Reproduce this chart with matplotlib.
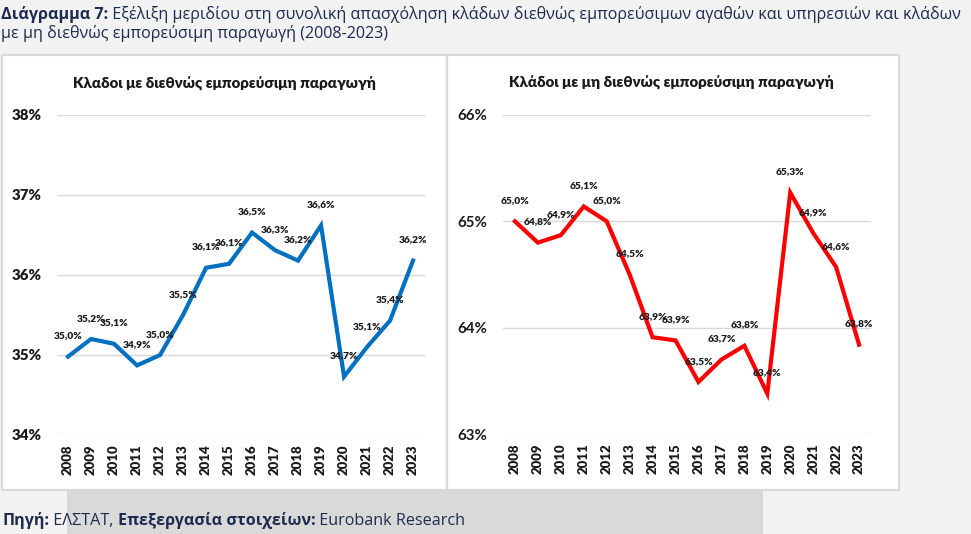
import matplotlib
matplotlib.use('Agg')
import matplotlib.pyplot as plt
from matplotlib.patches import Rectangle

# dados
anos = [str(a) for a in range(2008, 2024)]
comerciavel = [34.98, 35.20, 35.14, 34.87, 35.00, 35.50, 36.09, 36.14,
               36.53, 36.31, 36.18, 36.62, 34.73, 35.10, 35.43, 36.18]
rotulos_com = ['35,0%', '35,2%', '35,1%', '34,9%', '35,0%', '35,5%', '36,1%', '36,1%',
               '36,5%', '36,3%', '36,2%', '36,6%', '34,7%', '35,1%', '35,4%', '36,2%']
nao_comerciavel = [65.00, 64.80, 64.87, 65.14, 65.00, 64.50, 63.91, 63.88,
                   63.49, 63.70, 63.83, 63.38, 65.27, 64.89, 64.57, 63.84]
rotulos_nao = ['65,0%', '64,8%', '64,9%', '65,1%', '65,0%', '64,5%', '63,9%', '63,9%',
               '63,5%', '63,7%', '63,8%', '63,4%', '65,3%', '64,9%', '64,6%', '63,8%']
titulo = ('Διάγραμμα 7:', ' Εξέλιξη μεριδίου στη συνολική απασχόληση κλάδων διεθνώς '
          'εμπορεύσιμων αγαθών και υπηρεσιών και κλάδων')
titulo2 = 'με μη διεθνώς εμπορεύσιμη παραγωγή (2008-2023)'
fonte = [('Πηγή:', True), (' ΕΛΣΤΑΤ, ', False), ('Επεξεργασία στοιχείων:', True),
         (' Eurobank Research', False)]

W, H = 971, 534
NAVY = '#1d2b4f'
FONT_CAB = 'Open Sans'
FONT_CH = 'Lato'

fig = plt.figure(figsize=(W / 100, H / 100), dpi=100, facecolor='#f2f2f2')


def fx(x):
    return x / W


def fy(y):
    return 1 - y / H


# faixa do rodape
fig.patches.append(Rectangle((fx(67), 0), fx(763) - fx(67), fy(490),
                             transform=fig.transFigure, facecolor='#d9d9d9',
                             edgecolor='none', zorder=-2))
# paineis
for x0, x1 in [(2, 447), (447, 899)]:
    fig.patches.append(Rectangle((fx(x0), fy(490)), fx(x1) - fx(x0), fy(55) - fy(490),
                                 transform=fig.transFigure, facecolor='white',
                                 edgecolor='#d9d9d9', lw=1.6, zorder=-1))

renderer = fig.canvas.get_renderer()


def texto_rico(partes, x, y, size):
    """Escreve trechos em sequencia (negrito / normal)"""
    for s, negrito in partes:
        t = fig.text(fx(x), fy(y), s, fontsize=size, color=NAVY, family=FONT_CAB,
                     fontweight='bold' if negrito else 'normal', va='baseline', ha='left')
        bb = t.get_window_extent(renderer)
        x += bb.width


texto_rico([(titulo[0], True), (titulo[1], False)], 1, 19, 11.6)
texto_rico([(titulo2, False)], 1, 38, 11.6)
texto_rico(fonte, 2, 525, 11.6)


def painel(rect, valores, rotulos, ylim, xlim, cor, titulo_g, tx, ty, peso_y):
    ax = fig.add_axes(rect)
    ax.set_facecolor('none')
    x = list(range(len(anos)))
    ax.plot(x, valores, color=cor, lw=3.0, solid_joinstyle='miter', zorder=3)
    for xi, v, r in zip(x, valores, rotulos):
        ax.annotate(r, (xi, v), xytext=(0, 15), textcoords='offset points',
                    ha='center', va='center', fontsize=7.3, fontweight='heavy',
                    color='#1a1a1a', family=FONT_CH, zorder=4)
    ax.set_ylim(*ylim)
    ax.set_xlim(*xlim)
    ticks = list(range(ylim[0], ylim[1] + 1))
    ax.set_yticks(ticks)
    ax.set_yticklabels([f'{t}%' for t in ticks], fontsize=10.8, fontweight=peso_y,
                       family=FONT_CH, color='#1a1a1a')
    ax.set_xticks(x)
    ax.set_xticklabels(anos, rotation=90, fontsize=9.5, fontweight='heavy',
                       family=FONT_CH, color='#1a1a1a')
    ax.tick_params(axis='y', length=0, pad=11)
    ax.tick_params(axis='x', length=0, pad=7)
    ax.grid(axis='y', color='#d9d9d9', lw=1.0)
    ax.set_axisbelow(True)
    for s in ax.spines.values():
        s.set_visible(False)
    fig.text(fx(tx), fy(ty), titulo_g, ha='center', va='center', fontsize=10.8,
             fontweight='heavy', family=FONT_CH, color='#1a1a1a')
    return ax


painel([fx(57), fy(435), fx(425) - fx(57), fy(115) - fy(435)], comerciavel, rotulos_com,
       (34, 38), (-0.48, 15.52), '#0070c0', 'Κλαδοι με διεθνώς εμπορεύσιμη παραγωγή',
       224, 83, 'heavy')
painel([fx(503), fy(434), fx(871) - fx(503), fy(115) - fy(434)], nao_comerciavel, rotulos_nao,
       (63, 66), (-0.52, 15.52), '#ff0000', 'Κλάδοι με μη διεθνώς εμπορεύσιμη παραγωγή',
       671, 82, 'bold')

fig.savefig('out.png', dpi=100, facecolor=fig.get_facecolor())
